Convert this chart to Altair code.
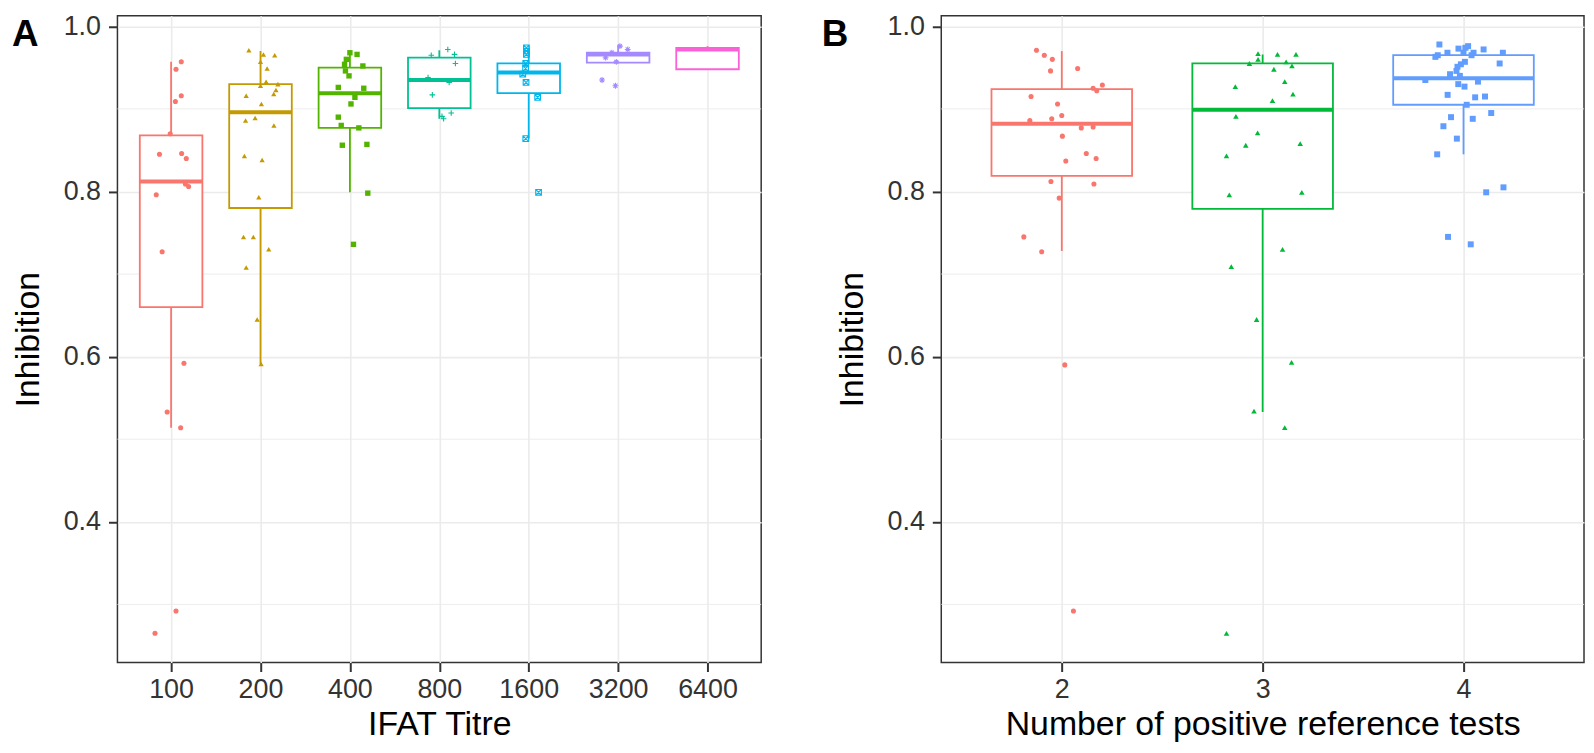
import altair as alt
import pandas as pd

# ---------------- Panel A : IFAT titre ----------------
titre_labels = ["100", "200", "400", "800", "1600", "3200", "6400"]

a100_inh = [0.957, 0.948, 0.916, 0.909, 0.870, 0.845, 0.846, 0.840, 0.809, 0.806,
            0.796, 0.727, 0.592, 0.533, 0.514, 0.292, 0.265]
a100_jit = [0.114, 0.055, 0.114, 0.048, -0.010, -0.130, 0.118, 0.170, 0.160, 0.196,
            -0.166, -0.100, 0.144, -0.044, 0.107, 0.055, -0.180]
a200_inh = [0.971, 0.966, 0.965, 0.957, 0.949, 0.933, 0.928, 0.930, 0.923, 0.918,
            0.916, 0.906, 0.886, 0.889, 0.880, 0.843, 0.838, 0.793, 0.745, 0.745,
            0.730, 0.708, 0.645, 0.591]
a200_jit = [-0.130, 0.033, 0.159, 0.000, 0.074, 0.063, 0.000, 0.195, 0.173, 0.148,
            -0.160, 0.010, -0.167, -0.060, 0.150, -0.180, 0.018, -0.019, -0.190, -0.080,
            0.092, -0.160, -0.037, 0.007]
a400_inh = [0.968, 0.966, 0.960, 0.954, 0.952, 0.946, 0.940, 0.926, 0.925, 0.914,
            0.906, 0.890, 0.880, 0.877, 0.856, 0.857, 0.798, 0.736]
a400_jit = [0.000, 0.080, -0.040, -0.060, 0.145, -0.050, -0.010, -0.130, 0.155, 0.056,
            0.012, -0.130, -0.097, 0.100, -0.085, 0.190, 0.200, 0.040]
a800_inh = [0.972, 0.966, 0.965, 0.955, 0.938, 0.932, 0.917, 0.895, 0.891, 0.888]
a800_jit = [0.095, 0.170, -0.090, 0.180, -0.126, 0.110, -0.078, 0.133, 0.030, 0.048]
a1600_inh = [0.974, 0.970, 0.966, 0.955, 0.949, 0.942, 0.932, 0.914, 0.864, 0.799]
a1600_jit = [-0.026, -0.026, -0.026, -0.033, -0.035, -0.067, -0.030, 0.100, -0.033, 0.110]
a3200_inh = [0.976, 0.972, 0.968, 0.962, 0.957, 0.935, 0.928]
a3200_jit = [0.020, 0.107, -0.070, -0.140, -0.020, -0.180, -0.030]
a6400_inh = []
a6400_jit = []

a_q1 = [0.660, 0.780, 0.877, 0.901, 0.919, 0.956, 0.948]
a_med = [0.812, 0.896, 0.919, 0.935, 0.944, 0.966, 0.972]
a_q3 = [0.868, 0.930, 0.950, 0.962, 0.955, 0.968, 0.974]
a_lo = [0.514, 0.591, 0.799, 0.888, 0.864, 0.956, 0.948]
a_hi = [0.957, 0.970, 0.968, 0.971, 0.974, 0.977, 0.976]

# ---------------- Panel B : number of positive reference tests ----------------
tests_labels = ["2", "3", "4"]

b2_inh = [0.971, 0.965, 0.960, 0.946, 0.949, 0.929, 0.925, 0.922, 0.915, 0.906,
          0.892, 0.888, 0.886, 0.878, 0.877, 0.867, 0.846, 0.840, 0.837, 0.812,
          0.809, 0.792, 0.745, 0.727, 0.590, 0.292]
b2_jit = [-0.126, -0.087, -0.047, -0.056, 0.079, 0.202, 0.156, 0.174, -0.153, -0.021,
          0.000, -0.050, -0.159, 0.156, 0.097, 0.003, 0.122, 0.171, 0.020, -0.054,
          0.160, -0.013, -0.189, -0.100, 0.015, 0.058]
b3_inh = [0.967, 0.966, 0.966, 0.960, 0.955, 0.957, 0.952, 0.948, 0.927, 0.933,
          0.918, 0.910, 0.891, 0.871, 0.856, 0.858, 0.843, 0.796, 0.799, 0.730,
          0.709, 0.645, 0.593, 0.534, 0.514, 0.265]
b3_jit = [-0.023, 0.074, 0.166, -0.023, -0.066, 0.117, 0.146, 0.056, -0.136, 0.110,
          0.151, 0.049, -0.133, -0.025, -0.084, 0.187, -0.180, -0.166, 0.195, 0.099,
          -0.156, -0.030, 0.144, -0.043, 0.110, -0.180]
b4_inh = [0.978, 0.973, 0.976, 0.974, 0.972, 0.968, 0.968, 0.968, 0.965, 0.963,
          0.965, 0.957, 0.954, 0.951, 0.946, 0.942, 0.940, 0.935, 0.933, 0.930,
          0.927, 0.917, 0.914, 0.915, 0.905, 0.895, 0.890, 0.888, 0.879, 0.864,
          0.845, 0.799, 0.745, 0.736, 0.968, 0.955, 0.805]
b4_jit = [-0.120, -0.025, 0.023, 0.010, 0.100, -0.080, 0.000, 0.050, -0.128, -0.140,
          0.040, 0.007, -0.013, -0.030, -0.035, -0.067, -0.018, -0.190, 0.072, -0.026,
          0.005, -0.079, 0.058, 0.107, 0.016, 0.138, -0.062, 0.046, -0.100, -0.033,
          -0.131, 0.113, -0.077, 0.036, 0.196, 0.180, 0.199]

b_q1 = [0.819, 0.779, 0.905]
b_med = [0.882, 0.899, 0.937]
b_q3 = [0.924, 0.955, 0.965]
b_lo = [0.728, 0.533, 0.845]
b_hi = [0.970, 0.966, 0.977]

# ---------------- axis values ----------------
y_ticks = [0.4, 0.6, 0.8, 1.0]
y_minor = [0.3, 0.5, 0.7, 0.9]
y_domain = [0.2296, 1.0127]

# ---------------- styles ----------------
PLUS = "M-1,0L1,0M0,-1L0,1"
SQX = "M-1,-1L1,-1L1,1L-1,1Z M-1,-1L1,1 M1,-1L-1,1"
AST = "M-1,0L1,0M0,-1L0,1M-0.7,-0.7L0.7,0.7M0.7,-0.7L-0.7,0.7"
FILLED = ("circle", "triangle-up", "square")

a_colors = ["#F8766D", "#C49A00", "#53B400", "#00C094", "#00B6EB", "#A58AFF", "#FB61D7"]
a_shapes = ["circle", "triangle-up", "square", PLUS, SQX, AST, "diamond"]
a_sizes = [26, 36, 24, 36, 28, 36, 26]
b_colors = ["#F8766D", "#00BA38", "#619CFF"]
b_shapes = ["circle", "triangle-up", "square"]
b_sizes = [26, 36, 24]

FONT = "Liberation Sans"


def make_panel(labels, inh_lists, jit_lists, q1, med, q3, lo, hi,
               colors, shapes, sizes, xtitle, letter, letter_x, width, height):
    n = len(labels)
    rows = []
    for i, lab in enumerate(labels):
        for v, j in zip(inh_lists[i], jit_lists[i]):
            rows.append(dict(grp=lab, idx=i + 1, inh=v, jit=j,
                             isopen=shapes[i] not in FILLED))
    pts = pd.DataFrame(rows, columns=["grp", "idx", "inh", "jit", "isopen"])
    box = pd.DataFrame(dict(grp=labels, idx=list(range(1, n + 1)),
                            q1=q1, med=med, q3=q3, lo=lo, hi=hi))

    xscale = alt.Scale(domain=[0.4, n + 0.6], nice=False, zero=False)
    yscale = alt.Scale(domain=y_domain, nice=False, zero=False)
    label_expr = "[" + ",".join("'%s'" % l for l in labels) + "][datum.value - 1]"
    xaxis = alt.Axis(values=list(range(1, n + 1)), labelExpr=label_expr, title=xtitle,
                     grid=True, labelFlush=False, labelOverlap=False)
    yaxis = alt.Axis(values=y_ticks, format=".1f", title="Inhibition", grid=True,
                     labelFlush=False, labelOverlap=False)
    cscale = alt.Scale(domain=labels, range=colors)
    shscale = alt.Scale(domain=labels, range=shapes)
    szscale = alt.Scale(domain=labels, range=sizes)

    minor = alt.Chart(pd.DataFrame({"v": y_minor})).mark_rule(
        color="#EBEBEB", strokeWidth=0.9
    ).encode(y=alt.Y("v:Q", scale=yscale, axis=yaxis))

    base_box = alt.Chart(box).transform_calculate(
        xl="datum.idx - 0.35", xr="datum.idx + 0.35"
    )
    whisk = base_box.mark_rule(strokeWidth=1.8).encode(
        x=alt.X("idx:Q", scale=xscale, axis=xaxis),
        y=alt.Y("lo:Q", scale=yscale, axis=yaxis),
        y2="hi:Q",
        color=alt.Color("grp:N", scale=cscale, legend=None),
    )
    rect = base_box.mark_rect(fill="white", strokeWidth=1.8).encode(
        x=alt.X("xl:Q", scale=xscale, axis=xaxis),
        x2="xr:Q",
        y=alt.Y("q1:Q", scale=yscale, axis=yaxis),
        y2="q3:Q",
        stroke=alt.Stroke("grp:N", scale=cscale, legend=None),
    )
    medr = base_box.mark_rule(strokeWidth=4).encode(
        x=alt.X("xl:Q", scale=xscale, axis=xaxis),
        x2="xr:Q",
        y=alt.Y("med:Q", scale=yscale, axis=yaxis),
        color=alt.Color("grp:N", scale=cscale, legend=None),
    )
    pbase = alt.Chart(pts).transform_calculate(xp="datum.idx + datum.jit")
    penc = dict(
        x=alt.X("xp:Q", scale=xscale, axis=xaxis),
        y=alt.Y("inh:Q", scale=yscale, axis=yaxis),
        color=alt.Color("grp:N", scale=cscale, legend=None),
        shape=alt.Shape("grp:N", scale=shscale, legend=None),
        size=alt.Size("grp:N", scale=szscale, legend=None),
    )
    filled = pbase.transform_filter("!datum.isopen").mark_point(
        filled=True, opacity=1
    ).encode(**penc)
    openp = pbase.transform_filter("datum.isopen").mark_point(
        filled=False, opacity=1, strokeWidth=1.1
    ).encode(**penc)

    let = alt.Chart(pd.DataFrame({"t": [letter]})).mark_text(
        align="left", baseline="alphabetic", fontSize=37, fontWeight="bold",
        font=FONT, color="black"
    ).encode(x=alt.value(letter_x), y=alt.value(30), text="t:N")

    return alt.layer(minor, whisk, rect, medr, filled, openp, let).properties(
        width=width, height=height
    )


left = make_panel(
    titre_labels,
    [a100_inh, a200_inh, a400_inh, a800_inh, a1600_inh, a3200_inh, a6400_inh],
    [a100_jit, a200_jit, a400_jit, a800_jit, a1600_jit, a3200_jit, a6400_jit],
    a_q1, a_med, a_q3, a_lo, a_hi, a_colors, a_shapes, a_sizes,
    "IFAT Titre", "A", -106, 647, 650,
)
right = make_panel(
    tests_labels,
    [b2_inh, b3_inh, b4_inh],
    [b2_jit, b3_jit, b4_jit],
    b_q1, b_med, b_q3, b_lo, b_hi, b_colors, b_shapes, b_sizes,
    "Number of positive reference tests", "B", -120, 646, 650,
)

chart = alt.hconcat(left, right, spacing=58).resolve_scale(
    color="independent", stroke="independent", shape="independent", size="independent"
).properties(
    padding={"left": 2, "top": 1, "right": 0, "bottom": 0}
).configure_view(
    stroke="#333333", strokeWidth=1.5
).configure_axis(
    labelFont=FONT, labelFontSize=27, labelColor="#333333",
    titleFont=FONT, titleFontSize=34, titleFontWeight="normal", titleColor="black",
    tickColor="#333333", tickWidth=2, tickSize=9, domain=False,
    gridColor="#EBEBEB", gridWidth=1.6,
).configure_axisX(
    labelPadding=5, titlePadding=5
).configure_axisY(
    labelPadding=8, titlePadding=18
)

chart.save("out.html", embed_options={"renderer": "svg", "actions": False})
